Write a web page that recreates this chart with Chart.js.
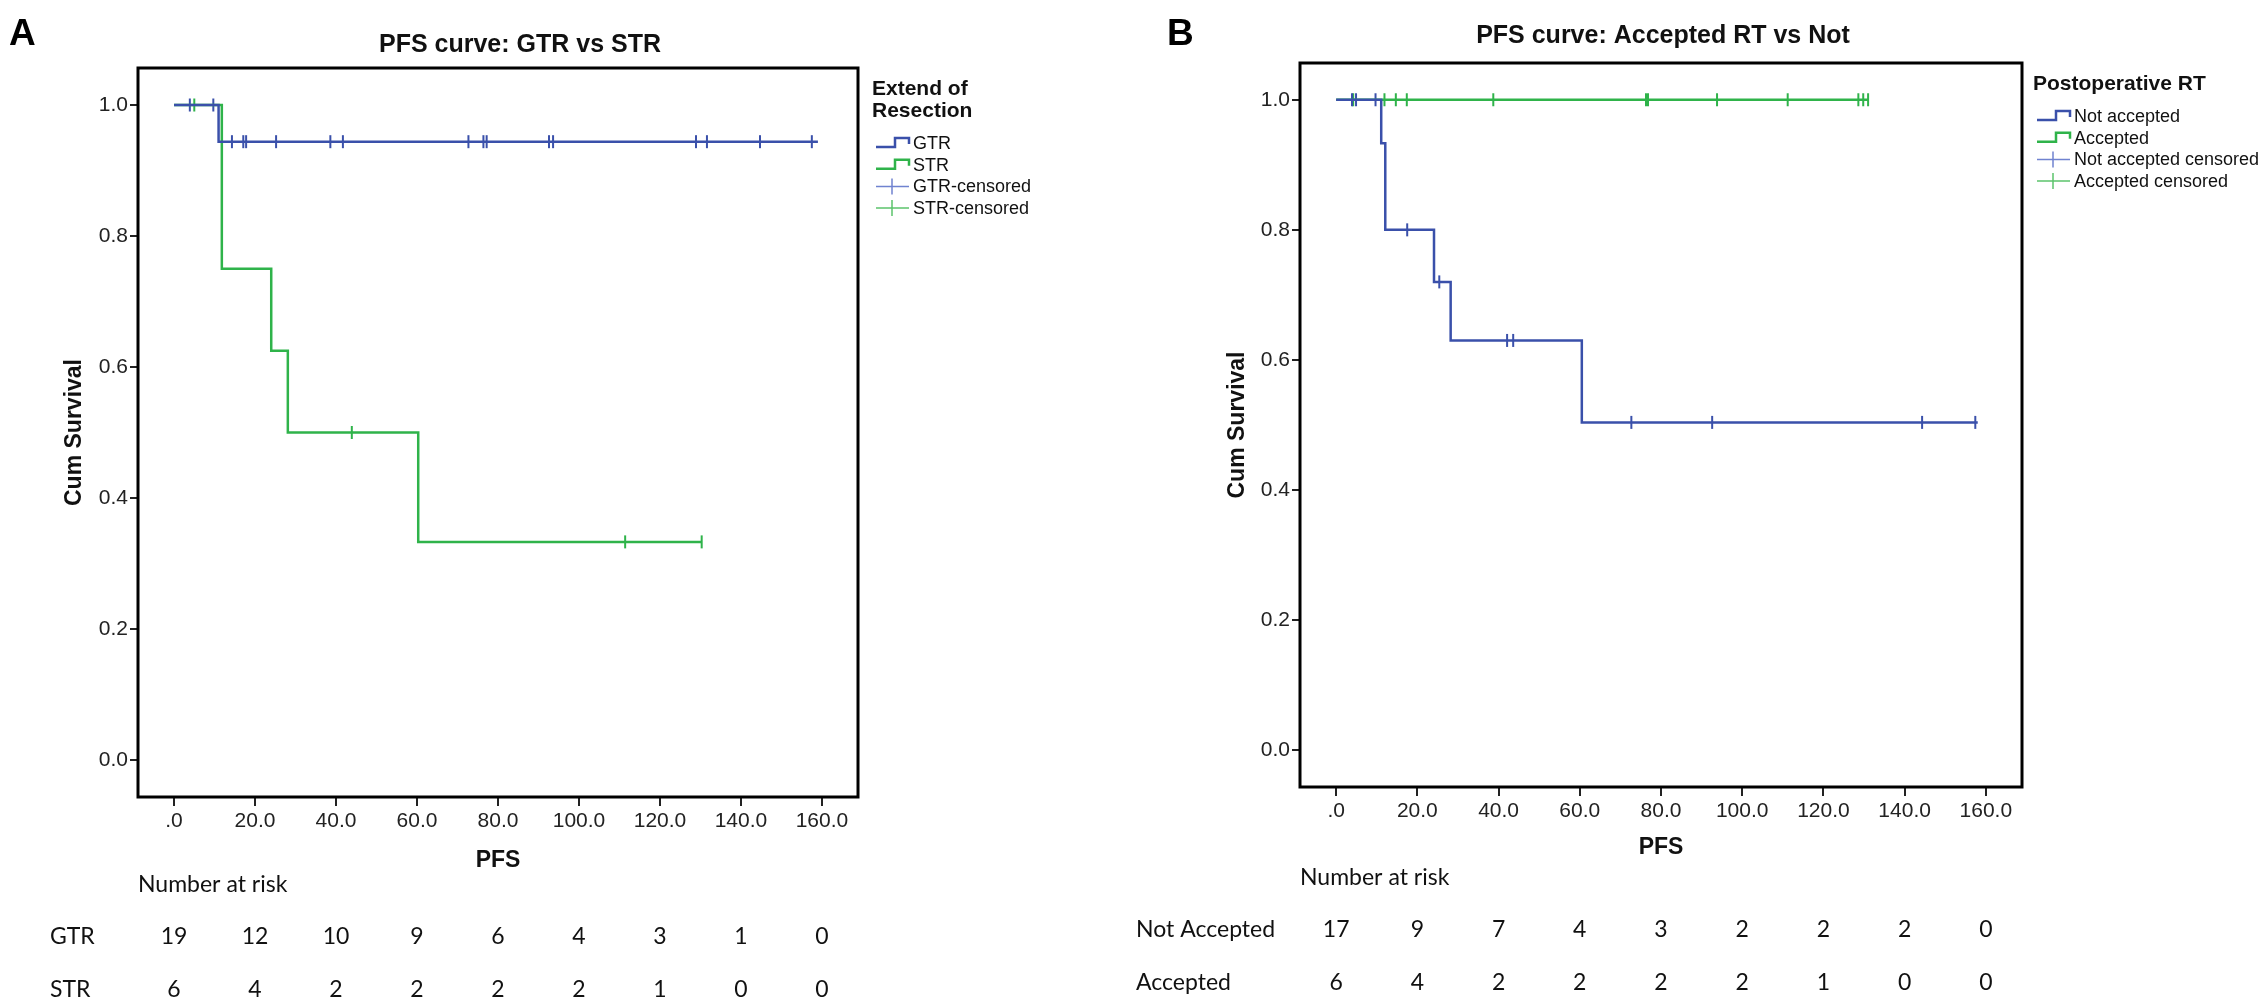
<!DOCTYPE html>
<html>
<head>
<meta charset="utf-8">
<script src="https://cdn.jsdelivr.net/npm/chart.js@4.4.1/dist/chart.umd.min.js"></script>
<style>
  body { margin: 0; background: #fff; }
  #wrap { position: relative; width: 2268px; height: 1008px; }
  canvas { position: absolute; top: 0; }
  #panelA { left: 0; }
  #panelB { left: 1134px; }
</style>
</head>
<body>
<div id="wrap">
  <canvas id="panelA" width="1134" height="1008"></canvas>
  <canvas id="panelB" width="1134" height="1008"></canvas>
</div>
<script>
// ---- data ----
const riskTicks = [0, 20, 40, 60, 80, 100, 120, 140, 160];

// A: extent of resection
const gtrTime = [0, 11.0, 159];
const gtrSurv = [1.0, 0.944, 0.944];
const gtrCensored = [3.9, 9.7, 14.3, 17.1, 17.8, 25.2, 38.6, 41.7, 72.7, 76.4, 77.2, 92.6, 93.6, 128.9, 131.6, 144.7, 157.5];
const strTime = [0, 11.8, 24.0, 28.1, 60.3, 130.3];
const strSurv = [1.0, 0.75, 0.625, 0.5, 0.333, 0.333];
const strCensored = [5.0, 43.9, 111.4, 130.3];
const gtrRisk = [19, 12, 10, 9, 6, 4, 3, 1, 0];
const strRisk = [6, 4, 2, 2, 2, 2, 1, 0, 0];

// B: postoperative RT
const notTime = [0, 11.1, 12.1, 24.1, 28.2, 60.5, 158];
const notSurv = [1.0, 0.933, 0.8, 0.72, 0.63, 0.504, 0.504];
const notCensored = [3.9, 4.9, 9.7, 17.5, 25.4, 42.1, 43.6, 72.7, 92.6, 144.3, 157.4];
const accTime = [0, 131];
const accSurv = [1.0, 1.0];
const accCensored = [4.2, 11.9, 14.7, 17.4, 38.7, 76.3, 76.8, 93.8, 111.2, 128.6, 129.8, 131];
const notRisk = [17, 9, 7, 4, 3, 2, 2, 2, 0];
const accRisk = [6, 4, 2, 2, 2, 2, 1, 0, 0];

const BLUE = '#3a50aa';
const GREEN = '#2fb34a';
const BLUE_LIGHT = '#7083d0';
const GREEN_LIGHT = '#5cc46c';
const ARIAL = "'Liberation Sans', Arial, sans-serif";
const NARROW = "'Liberation Sans Narrow', 'Liberation Sans', Arial, sans-serif";
const CALIBRI = "Lato, 'Open Sans', sans-serif";

function survAt(times, surv, t) {
    let s = surv[0];
    for (let i = 0; i < times.length; i++) {
        if (times[i] <= t) s = surv[i];
    }
    return s;
}

function curve(label, times, surv, color) {
    return {
        label: label,
        data: times.map((t, i) => ({ x: t, y: surv[i] })),
        showLine: true,
        stepped: 'before',
        borderColor: color,
        borderWidth: 2.5,
        pointRadius: 0,
        fill: false
    };
}

function censorMarks(label, cens, times, surv, color) {
    return {
        label: label,
        data: cens.map(t => ({ x: t, y: survAt(times, surv, t) })),
        showLine: false,
        pointStyle: 'line',
        rotation: 90,
        pointRadius: 6.5,
        pointBorderWidth: 2,
        borderColor: color,
        backgroundColor: color
    };
}

// draws the frame, title, letter, legend and number-at-risk table
const panelDecor = {
    id: 'panelDecor',
    afterDraw(chart, args, o) {
        const ctx = chart.ctx;
        const a = chart.chartArea;
        const xs = chart.scales.x;
        ctx.save();
        ctx.strokeStyle = '#000';
        ctx.lineWidth = 3;
        ctx.strokeRect(a.left, a.top, a.right - a.left, a.bottom - a.top);

        ctx.fillStyle = '#000';
        ctx.textBaseline = 'alphabetic';
        ctx.textAlign = 'left';
        ctx.font = 'bold 37px ' + ARIAL;
        ctx.fillText(o.letter, o.letterX, 45);

        ctx.textAlign = 'center';
        ctx.font = 'bold 25px ' + ARIAL;
        ctx.fillStyle = '#111';
        ctx.fillText(o.title, o.titleX, o.titleY);

        // legend
        ctx.textAlign = 'left';
        ctx.font = 'bold 21px ' + ARIAL;
        o.legendTitle.forEach((line, i) => ctx.fillText(line, o.legendX, o.legendTitleY + i * 22));
        ctx.font = '18px ' + ARIAL;
        ctx.textBaseline = 'middle';
        o.legendItems.forEach((it, i) => {
            const y = o.legendItemY + i * o.legendStep;
            const x0 = o.legendX + 4;
            ctx.beginPath();
            if (it.kind === 'step') {
                ctx.strokeStyle = it.color;
                ctx.lineWidth = 2.5;
                ctx.moveTo(x0, y + 4);
                ctx.lineTo(x0 + 19, y + 4);
                ctx.lineTo(x0 + 19, y - 5);
                ctx.lineTo(x0 + 33, y - 5);
                ctx.lineTo(x0 + 33, y + 1);
            } else {
                ctx.strokeStyle = it.color;
                ctx.lineWidth = 1.5;
                ctx.moveTo(x0, y);
                ctx.lineTo(x0 + 33, y);
                ctx.moveTo(x0 + 16, y - 8);
                ctx.lineTo(x0 + 16, y + 8);
            }
            ctx.stroke();
            ctx.fillStyle = '#111';
            ctx.fillText(it.text, x0 + 37, y + 1);
        });

        // number at risk
        ctx.font = '23px ' + CALIBRI;
        ctx.fillStyle = '#111';
        ctx.textAlign = 'left';
        ctx.fillText('Number at risk', a.left, o.riskHeadY);
        o.riskRows.forEach((row, r) => {
            const y = o.riskRowY + r * 53;
            ctx.textAlign = 'left';
            ctx.fillText(row.name, o.riskLabelX, y);
            ctx.textAlign = 'center';
            row.values.forEach((v, i) => ctx.fillText(String(v), xs.getPixelForValue(riskTicks[i]), y));
        });
        ctx.restore();
    }
};

function makePanel(id, datasets, decor, yTitlePad, padRight, plotTop, plotBottom, yWidth) {
    return new Chart(document.getElementById(id), {
        type: 'scatter',
        data: { datasets: datasets },
        options: {
            responsive: false,
            animation: false,
            devicePixelRatio: 1,
            layout: { padding: { top: plotTop, right: padRight, bottom: 0, left: 0 } },
            plugins: {
                legend: { display: false },
                tooltip: { enabled: false },
                panelDecor: decor
            },
            scales: {
                x: {
                    type: 'linear',
                    min: -8.9,
                    max: 168.9,
                    afterBuildTicks: s => { s.ticks = riskTicks.map(v => ({ value: v })); },
                    afterFit: s => { s.height = 1008 - plotBottom; },
                    border: { display: false },
                    grid: { drawOnChartArea: false, drawTicks: true, tickLength: 9, color: '#222', lineWidth: 2 },
                    ticks: {
                        padding: 3,
                        color: '#222',
                        font: { family: NARROW, size: 21 },
                        callback: v => v === 0 ? '.0' : v.toFixed(1)
                    },
                    title: {
                        display: true,
                        text: 'PFS',
                        color: '#111',
                        font: { family: ARIAL, size: 23, weight: 'bold' },
                        padding: { top: 0, bottom: 1008 - decor.pfsY - 14 }
                    }
                },
                y: {
                    type: 'linear',
                    min: -0.0565,
                    max: 1.0565,
                    afterBuildTicks: s => { s.ticks = [0, 0.2, 0.4, 0.6, 0.8, 1.0].map(v => ({ value: v })); },
                    afterFit: s => { s.width = yWidth; },
                    border: { display: false },
                    grid: { drawOnChartArea: false, drawTicks: true, tickLength: 8, color: '#222', lineWidth: 2 },
                    ticks: {
                        padding: 2,
                        color: '#222',
                        font: { family: NARROW, size: 21 },
                        callback: v => v.toFixed(1)
                    },
                    title: {
                        display: true,
                        text: 'Cum Survival',
                        color: '#111',
                        font: { family: ARIAL, size: 23, weight: 'bold' },
                        padding: { top: yTitlePad, bottom: 0 }
                    }
                }
            }
        },
        plugins: [panelDecor]
    });
}

makePanel('panelA', [
    curve('GTR', gtrTime, gtrSurv, BLUE),
    curve('STR', strTime, strSurv, GREEN),
    censorMarks('GTR-censored', gtrCensored, gtrTime, gtrSurv, BLUE),
    censorMarks('STR-censored', strCensored, strTime, strSurv, GREEN)
], {
    letter: 'A', letterX: 9,
    title: 'PFS curve: GTR vs STR', titleX: 520, titleY: 52,
    legendX: 872, legendTitleY: 95, legendTitle: ['Extend of', 'Resection'],
    legendItemY: 143, legendStep: 21.7,
    legendItems: [
        { kind: 'step', color: BLUE, text: 'GTR' },
        { kind: 'step', color: GREEN, text: 'STR' },
        { kind: 'cens', color: BLUE_LIGHT, text: 'GTR-censored' },
        { kind: 'cens', color: GREEN_LIGHT, text: 'STR-censored' }
    ],
    pfsY: 860,
    riskHeadY: 885, riskRowY: 937, riskLabelX: 50,
    riskRows: [
        { name: 'GTR', values: gtrRisk },
        { name: 'STR', values: strRisk }
    ]
}, 61, 276, 68, 797, 138);

makePanel('panelB', [
    curve('Not accepted', notTime, notSurv, BLUE),
    curve('Accepted', accTime, accSurv, GREEN),
    censorMarks('Not accepted censored', notCensored, notTime, notSurv, BLUE),
    censorMarks('Accepted censored', accCensored, accTime, accSurv, GREEN)
], {
    letter: 'B', letterX: 33,
    title: 'PFS curve: Accepted RT vs Not', titleX: 529, titleY: 43,
    legendX: 899, legendTitleY: 90, legendTitle: ['Postoperative RT'],
    legendItemY: 116, legendStep: 21.7,
    legendItems: [
        { kind: 'step', color: BLUE, text: 'Not accepted' },
        { kind: 'step', color: GREEN, text: 'Accepted' },
        { kind: 'cens', color: BLUE_LIGHT, text: 'Not accepted censored' },
        { kind: 'cens', color: GREEN_LIGHT, text: 'Accepted censored' }
    ],
    pfsY: 847,
    riskHeadY: 878, riskRowY: 930, riskLabelX: 2,
    riskRows: [
        { name: 'Not Accepted', values: notRisk },
        { name: 'Accepted', values: accRisk }
    ]
}, 90, 246, 63, 787, 166);
</script>
</body>
</html>
